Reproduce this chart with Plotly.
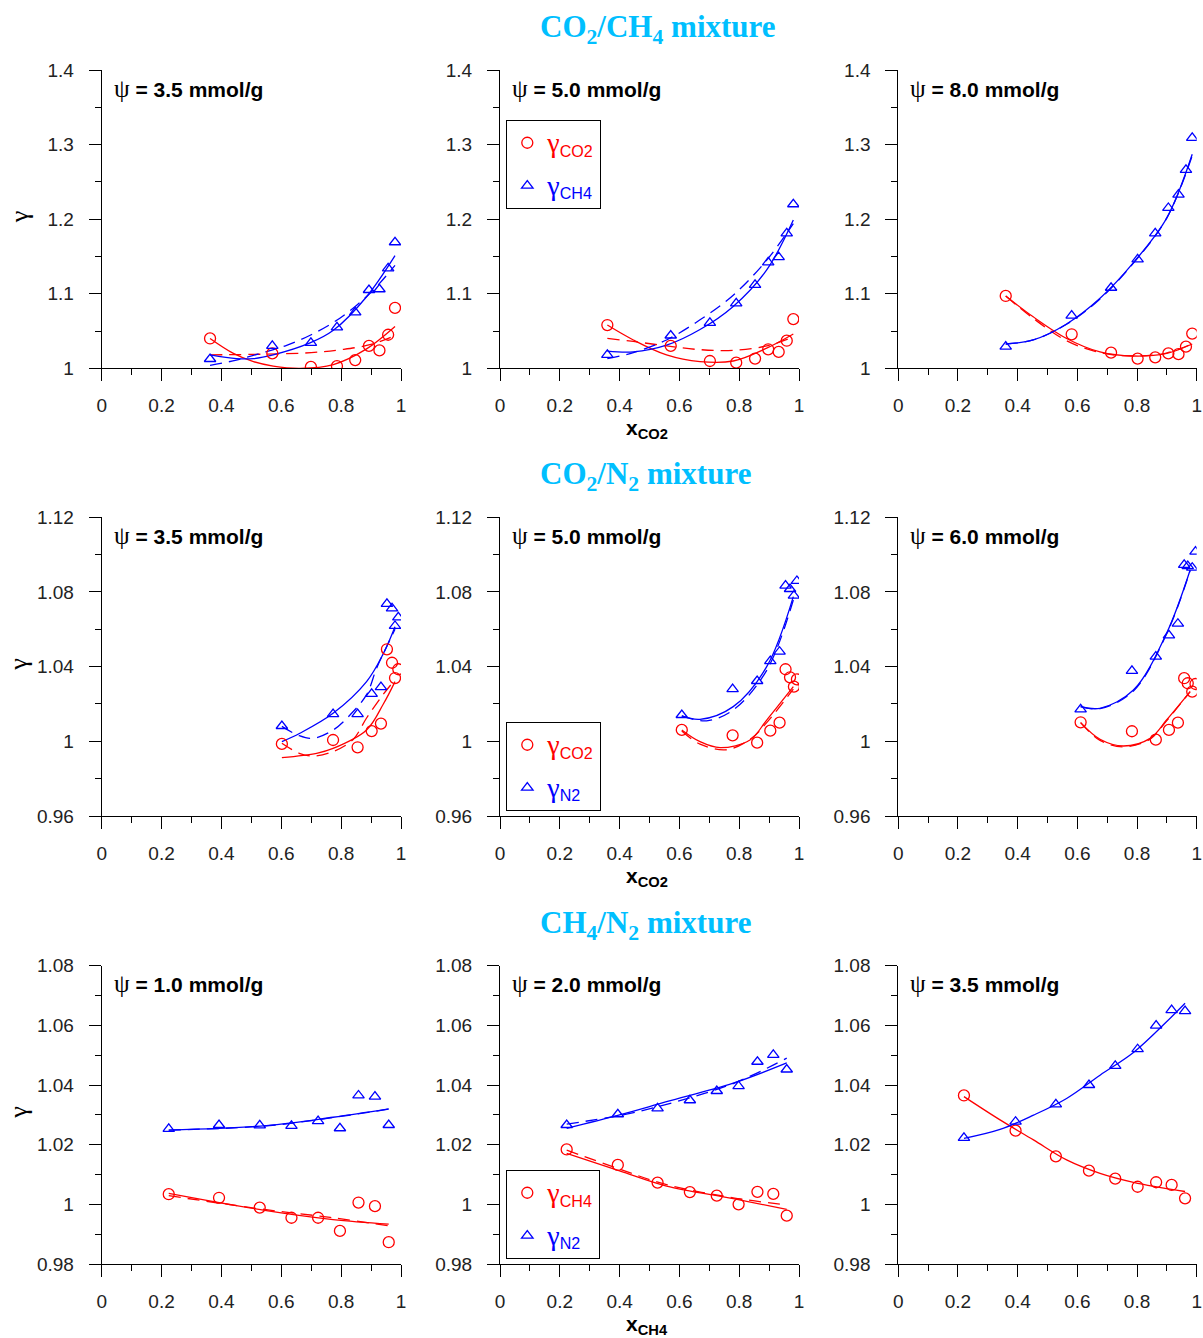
import plotly.graph_objects as go

W, H = 1203, 1338

# ---------------- DATA ----------------
# Row 1: CO2/CH4 mixture (x = x_CO2); g1 = gamma_CO2 (red), g2 = gamma_CH4 (blue)
p1_x = [0.362, 0.570, 0.699, 0.786, 0.847, 0.893, 0.928, 0.957, 0.980]
p1_g1 = [1.040, 1.020, 1.002, 1.003, 1.011, 1.030, 1.024, 1.045, 1.081]
p1_g2 = [1.0125, 1.030, 1.034, 1.055, 1.075, 1.105, 1.106, 1.134, 1.169]
p1_s1_x = [0.362, 0.44, 0.507, 0.573, 0.663, 0.774, 0.885, 0.98]
p1_s1_y = [1.040, 1.020, 1.009, 1.003, 1.000, 1.005, 1.026, 1.056]
p1_d1_x = [0.362, 0.55, 0.70, 0.80, 0.90, 0.98]
p1_d1_y = [1.018, 1.019, 1.021, 1.025, 1.032, 1.044]
p1_s2_x = [0.362, 0.45, 0.507, 0.573, 0.696, 0.774, 0.885, 0.98]
p1_s2_y = [1.018, 1.013, 1.013, 1.018, 1.034, 1.051, 1.096, 1.151]
p1_d2_x = [0.362, 0.45, 0.53, 0.62, 0.70, 0.78, 0.85, 0.91, 0.98]
p1_d2_y = [1.004, 1.011, 1.020, 1.031, 1.045, 1.063, 1.084, 1.106, 1.138]

p2_x = [0.359, 0.571, 0.702, 0.790, 0.853, 0.897, 0.932, 0.959, 0.981]
p2_g1 = [1.058, 1.030, 1.0098, 1.0076, 1.013, 1.0255, 1.022, 1.037, 1.066]
p2_g2 = [1.018, 1.044, 1.061, 1.087, 1.112, 1.142, 1.149, 1.181, 1.220]
p2_c_x = [0.359, 0.446, 0.557, 0.669, 0.78, 0.892, 0.981]
p2_s1_y = [1.058, 1.038, 1.018, 1.009, 1.0098, 1.027, 1.046]
p2_d1_y = [1.040, 1.036, 1.030, 1.025, 1.024, 1.030, 1.042]
p2_s2_y = [1.023, 1.022, 1.031, 1.052, 1.083, 1.132, 1.199]
p2_d2_y = [1.013, 1.021, 1.038, 1.065, 1.098, 1.145, 1.194]

p3_x = [0.360, 0.581, 0.713, 0.802, 0.861, 0.905, 0.939, 0.964, 0.985]
p3_g1 = [1.097, 1.0456, 1.021, 1.013, 1.0147, 1.020, 1.019, 1.029, 1.0465]
p3_g2 = [1.029, 1.0706, 1.108, 1.146, 1.181, 1.215, 1.233, 1.266, 1.309]
p3_c_x = [0.360, 0.452, 0.564, 0.676, 0.788, 0.899, 0.985]
p3_s1_y = [1.097, 1.069, 1.040, 1.022, 1.0165, 1.020, 1.0326]
p3_d1_y = [1.097, 1.067, 1.037, 1.021, 1.0165, 1.0205, 1.033]
p3_s2_y = [1.0326, 1.038, 1.0594, 1.0939, 1.1417, 1.201, 1.287]
p3_d2_y = [1.0326, 1.038, 1.059, 1.093, 1.141, 1.201, 1.285]

# Row 2: CO2/N2 mixture; g1 = gamma_CO2 (red), g2 = gamma_N2 (blue)
p4_x = [0.602, 0.773, 0.855, 0.902, 0.933, 0.953, 0.970, 0.980, 0.991]
p4_g1 = [0.9986, 1.0007, 0.9968, 1.0055, 1.0095, 1.0493, 1.0421, 1.0339, 1.0386]
p4_g2 = [1.0082, 1.0146, 1.0146, 1.0254, 1.029, 1.0736, 1.0712, 1.0618, 1.0664]
p4_s1_x = [0.602, 0.718, 0.773, 0.885, 0.941, 0.98]
p4_s1_y = [0.9913, 0.9936, 0.9962, 1.0061, 1.020, 1.032]
p4_d1_x = [0.602, 0.66, 0.706, 0.773, 0.84, 0.885, 0.94, 0.98]
p4_d1_y = [0.999, 0.9936, 0.9921, 0.9945, 1.001, 1.0125, 1.025, 1.033]
p4_s2_x = [0.602, 0.662, 0.773, 0.885, 0.941, 0.98]
p4_s2_y = [0.9998, 1.0043, 1.015, 1.032, 1.047, 1.0614]
p4_d2_x = [0.602, 0.66, 0.706, 0.773, 0.829, 0.885, 0.918, 0.95, 0.98]
p4_d2_y = [1.008, 1.003, 1.0016, 1.006, 1.014, 1.025, 1.039, 1.050, 1.060]

p5_x = [0.608, 0.778, 0.860, 0.904, 0.935, 0.955, 0.970, 0.983, 0.993]
p5_g1 = [1.0061, 1.0032, 0.9993, 1.0057, 1.010, 1.0386, 1.0343, 1.0293, 1.0332]
p5_g2 = [1.0141, 1.028, 1.0323, 1.043, 1.048, 1.0834, 1.0816, 1.078, 1.0859]
p5_s1_x = [0.608, 0.669, 0.736, 0.836, 0.892, 0.981]
p5_s1_y = [1.0061, 0.9998, 0.9966, 1.0007, 1.0114, 1.0293]
p5_d1_x = [0.608, 0.669, 0.758, 0.84, 0.892, 0.981]
p5_d1_y = [1.0055, 0.9985, 0.9955, 1.0015, 1.010, 1.028]
p5_s2_x = [0.608, 0.669, 0.78, 0.892, 0.981]
p5_s2_y = [1.0136, 1.0118, 1.0186, 1.040, 1.0775]
p5_d2_x = [0.608, 0.691, 0.78, 0.892, 0.981]
p5_d2_y = [1.0136, 1.0110, 1.0168, 1.038, 1.0757]

p6_x = [0.611, 0.783, 0.863, 0.907, 0.937, 0.958, 0.970, 0.985, 0.996]
p6_g1 = [1.0102, 1.0054, 1.0009, 1.0061, 1.010, 1.0338, 1.0311, 1.0266, 1.0307]
p6_g2 = [1.0171, 1.0377, 1.0454, 1.0568, 1.063, 1.0945, 1.0939, 1.093, 1.1016]
p6_s1_x = [0.611, 0.676, 0.754, 0.844, 0.899, 0.978]
p6_s1_y = [1.010, 1.0011, 0.9975, 1.0016, 1.0114, 1.0266]
p6_d1_y = [1.010, 1.0005, 0.9970, 1.0012, 1.011, 1.0266]
p6_s2_x = [0.611, 0.676, 0.788, 0.899, 0.978]
p6_s2_y = [1.0186, 1.0177, 1.0275, 1.0579, 1.0918]
p6_d2_y = [1.0186, 1.0175, 1.027, 1.0575, 1.0915]

# Row 3: CH4/N2 mixture (x = x_CH4); g1 = gamma_CH4 (red), g2 = gamma_N2 (blue)
p7_x = [0.224, 0.392, 0.528, 0.634, 0.723, 0.796, 0.858, 0.913, 0.959]
p7_g1 = [1.0034, 1.0022, 0.9989, 0.9955, 0.9955, 0.9911, 1.0006, 0.9994, 0.9873]
p7_g2 = [1.0253, 1.0266, 1.0265, 1.0263, 1.0279, 1.0255, 1.0365, 1.0361, 1.0266]
p7_c_x = [0.224, 0.55, 0.773, 0.959]
p7_s1_y = [1.0037, 0.9979, 0.9949, 0.9934]
p7_d1_y = [1.0029, 0.9982, 0.9955, 0.9928]
p7_s2_y = [1.0249, 1.0264, 1.0292, 1.032]
p7_d2_y = [1.0249, 1.0263, 1.0291, 1.0319]

p8_x = [0.223, 0.394, 0.527, 0.635, 0.725, 0.798, 0.861, 0.914, 0.959]
p8_g1 = [1.0184, 1.0132, 1.0073, 1.0041, 1.0029, 1.0000, 1.0042, 1.0035, 0.9962]
p8_g2 = [1.0266, 1.0302, 1.0322, 1.0349, 1.038, 1.0396, 1.0478, 1.0501, 1.0452]
p8_c_x = [0.223, 0.4, 0.557, 0.78, 0.959]
p8_s1_y = [1.0171, 1.0112, 1.0061, 1.0019, 0.9983]
p8_d1_y = [1.0182, 1.0118, 1.0066, 1.0022, 0.9998]
p8_s2_y = [1.0255, 1.0300, 1.0344, 1.0406, 1.0474]
p8_d2_y = [1.0269, 1.0298, 1.0335, 1.0405, 1.049]

p9_x = [0.220, 0.393, 0.528, 0.639, 0.727, 0.802, 0.864, 0.916, 0.961]
p9_g1 = [1.0365, 1.0247, 1.0161, 1.0113, 1.0086, 1.0059, 1.0074, 1.0065, 1.0020]
p9_g2 = [1.0223, 1.0277, 1.0335, 1.040, 1.0464, 1.052, 1.0599, 1.0651, 1.0648]
p9_s1_x = [0.220, 0.341, 0.453, 0.564, 0.676, 0.788, 0.961]
p9_s1_y = [1.0361, 1.0283, 1.0216, 1.0149, 1.0104, 1.0074, 1.0043]
p9_s2_x = [0.220, 0.341, 0.453, 0.564, 0.676, 0.788, 0.899, 0.961]
p9_s2_y = [1.0221, 1.0251, 1.0299, 1.0355, 1.0433, 1.0509, 1.0612, 1.0674]

psi_labels = ["3.5", "5.0", "8.0", "3.5", "5.0", "6.0", "1.0", "2.0", "3.5"]
row_titles = ["CO<sub>2</sub>/CH<sub>4</sub> mixture",
              "CO<sub>2</sub>/N<sub>2</sub> mixture",
              "CH<sub>4</sub>/N<sub>2</sub> mixture"]
xaxis_titles = ["CO2", "CO2", "CH4"]
legend_names = [("CO2", "CH4"), ("CO2", "N2"), ("CH4", "N2")]

x_tickvals = [0, 0.2, 0.4, 0.6, 0.8, 1.0]
x_ticktext = ["0", "0.2", "0.4", "0.6", "0.8", "1"]
y_ranges = [[1.0, 1.4], [0.96, 1.12], [0.98, 1.08]]
y_tickvals = [[1.0, 1.1, 1.2, 1.3, 1.4],
              [0.96, 1.0, 1.04, 1.08, 1.12],
              [0.98, 1.0, 1.02, 1.04, 1.06, 1.08]]
y_ticktext = [["1", "1.1", "1.2", "1.3", "1.4"],
              ["0.96", "1", "1.04", "1.08", "1.12"],
              ["0.98", "1", "1.02", "1.04", "1.06", "1.08"]]
y_minor = [0.05, 0.02, 0.01]

# ---------------- LAYOUT GEOMETRY (pixels) ----------------
col_x = [(101.7, 401.0), (500.0, 799.0), (898.3, 1196.7)]
row_y = [(70.0, 368.3), (517.3, 816.0), (965.7, 1264.0)]
RED = "#ff0000"
BLUE = "#0000ff"


def px(x):
    return x / W


def py(y):
    return 1 - y / H


panels = [
    dict(x=p1_x, g1=p1_g1, g2=p1_g2,
         lines=[(p1_s1_x, p1_s1_y, RED, None), (p1_d1_x, p1_d1_y, RED, "dash"),
                (p1_s2_x, p1_s2_y, BLUE, None), (p1_d2_x, p1_d2_y, BLUE, "dash")]),
    dict(x=p2_x, g1=p2_g1, g2=p2_g2,
         lines=[(p2_c_x, p2_s1_y, RED, None), (p2_c_x, p2_d1_y, RED, "dash"),
                (p2_c_x, p2_s2_y, BLUE, None), (p2_c_x, p2_d2_y, BLUE, "dash")]),
    dict(x=p3_x, g1=p3_g1, g2=p3_g2,
         lines=[(p3_c_x, p3_s1_y, RED, None), (p3_c_x, p3_d1_y, RED, "dash"),
                (p3_c_x, p3_s2_y, BLUE, None), (p3_c_x, p3_d2_y, BLUE, "dash")]),
    dict(x=p4_x, g1=p4_g1, g2=p4_g2,
         lines=[(p4_s1_x, p4_s1_y, RED, None), (p4_d1_x, p4_d1_y, RED, "dash"),
                (p4_s2_x, p4_s2_y, BLUE, None), (p4_d2_x, p4_d2_y, BLUE, "dash")]),
    dict(x=p5_x, g1=p5_g1, g2=p5_g2,
         lines=[(p5_s1_x, p5_s1_y, RED, None), (p5_d1_x, p5_d1_y, RED, "dash"),
                (p5_s2_x, p5_s2_y, BLUE, None), (p5_d2_x, p5_d2_y, BLUE, "dash")]),
    dict(x=p6_x, g1=p6_g1, g2=p6_g2,
         lines=[(p6_s1_x, p6_s1_y, RED, None), (p6_s1_x, p6_d1_y, RED, "dash"),
                (p6_s2_x, p6_s2_y, BLUE, None), (p6_s2_x, p6_d2_y, BLUE, "dash")]),
    dict(x=p7_x, g1=p7_g1, g2=p7_g2,
         lines=[(p7_c_x, p7_s1_y, RED, None), (p7_c_x, p7_d1_y, RED, "dash"),
                (p7_c_x, p7_s2_y, BLUE, None), (p7_c_x, p7_d2_y, BLUE, "dash")]),
    dict(x=p8_x, g1=p8_g1, g2=p8_g2,
         lines=[(p8_c_x, p8_s1_y, RED, None), (p8_c_x, p8_d1_y, RED, "dash"),
                (p8_c_x, p8_s2_y, BLUE, None), (p8_c_x, p8_d2_y, BLUE, "dash")]),
    dict(x=p9_x, g1=p9_g1, g2=p9_g2,
         lines=[(p9_s1_x, p9_s1_y, RED, None), (p9_s2_x, p9_s2_y, BLUE, None)]),
]

fig = go.Figure()
annotations = []
layout = {}

GAM = '<span style="font-family:Liberation Serif;font-size:28px">γ</span>'

for i, p in enumerate(panels):
    r, c = divmod(i, 3)
    n = i + 1
    xa = "x" if n == 1 else f"x{n}"
    ya = "y" if n == 1 else f"y{n}"
    for lx, ly, col, dash in p["lines"]:
        fig.add_trace(go.Scatter(
            x=lx, y=ly, mode="lines", xaxis=xa, yaxis=ya, showlegend=False,
            line=dict(color=col, width=1.3, shape="spline", smoothing=1.0,
                      dash="12px,7px" if dash else "solid"),
            hoverinfo="skip"))
    show = (c == 1)
    leg = "legend" if r == 0 else f"legend{r + 1}"
    n1, n2 = legend_names[r]
    fig.add_trace(go.Scatter(
        x=p["x"], y=p["g1"], mode="markers", xaxis=xa, yaxis=ya,
        marker=dict(symbol="circle-open", size=11, color=RED, line=dict(width=1.3)),
        name=f'<span style="color:{RED}">{GAM}<sub>{n1}</sub></span>',
        showlegend=show, legend=leg, legendgroup=f"a{n}"))
    fig.add_trace(go.Scatter(
        x=p["x"], y=p["g2"], mode="markers", xaxis=xa, yaxis=ya,
        marker=dict(symbol="triangle-up-open", size=10, color=BLUE, line=dict(width=1.3)),
        name=f'<span style="color:{BLUE}">{GAM}<sub>{n2}</sub></span>',
        showlegend=show, legend=leg, legendgroup=f"b{n}"))

    x0, x1 = col_x[c]
    y0, y1 = row_y[r]
    layout["xaxis" if n == 1 else f"xaxis{n}"] = dict(
        domain=[px(x0), px(x1)], anchor=ya, range=[0, 1], automargin=False,
        tickmode="array", tickvals=x_tickvals, ticktext=x_ticktext,
        ticks="outside", ticklen=12, tickwidth=1, tickcolor="black",
        minor=dict(tickmode="linear", tick0=0, dtick=0.1, ticks="outside",
                   ticklen=6, tickwidth=1, tickcolor="black"),
        showline=True, linecolor="black", linewidth=1, showgrid=False, zeroline=False,
        tickfont=dict(family="Liberation Sans", size=19, color="#222"),
        ticklabelstandoff=8, fixedrange=True)
    layout["yaxis" if n == 1 else f"yaxis{n}"] = dict(
        domain=[py(y1), py(y0)], anchor=xa, range=y_ranges[r], automargin=False,
        tickmode="array", tickvals=y_tickvals[r], ticktext=y_ticktext[r],
        ticks="outside", ticklen=12, tickwidth=1, tickcolor="black",
        minor=dict(tickmode="linear", tick0=y_ranges[r][0], dtick=y_minor[r],
                   ticks="outside", ticklen=6, tickwidth=1, tickcolor="black"),
        showline=True, linecolor="black", linewidth=1, showgrid=False, zeroline=False,
        tickfont=dict(family="Liberation Sans", size=19, color="#222"),
        ticklabelstandoff=11, fixedrange=True)

    # psi label
    annotations.append(dict(
        x=px(x0 + 10), y=py(y0 + 18), xref="paper", yref="paper",
        xanchor="left", yanchor="middle", showarrow=False,
        text=f'<span style="font-family:Liberation Serif;font-size:25px">ψ</span> <b>= {psi_labels[i]} mmol/g</b>',
        font=dict(family="Liberation Sans", size=21, color="black")))
    # gamma y-title
    if c == 0:
        annotations.append(dict(
            x=px(19), y=py((y0 + y1) / 2 - 2), xref="paper", yref="paper",
            xanchor="center", yanchor="middle", showarrow=False, textangle=-90,
            text="γ", font=dict(family="Liberation Serif", size=26, color="black")))

for r in range(3):
    y0, y1 = row_y[r]
    annotations.append(dict(
        x=px(538), y=py(y0 - 41), xref="paper", yref="paper",
        xanchor="left", yanchor="middle", showarrow=False,
        text=f"<b>{row_titles[r]}</b>",
        font=dict(family="Liberation Serif", size=31, color="#00bfff")))
    annotations.append(dict(
        x=px(647), y=py(y1 + 61), xref="paper", yref="paper",
        xanchor="center", yanchor="middle", showarrow=False,
        text=f"<b>x<sub>{xaxis_titles[r]}</sub></b>",
        font=dict(family="Liberation Sans", size=21, color="black")))

legend_tops = [120, 722, 1170]
for r in range(3):
    key = "legend" if r == 0 else f"legend{r + 1}"
    layout[key] = dict(
        x=px(506), y=py(legend_tops[r]), xanchor="left", yanchor="top",
        bordercolor="black", borderwidth=1.3, bgcolor="white",
        font=dict(family="Liberation Sans", size=23, color="black"),
        tracegroupgap=10, itemwidth=30)

fig.update_layout(
    template="none", autosize=False,
    width=W, height=H, margin=dict(l=0, r=0, t=0, b=0, pad=0),
    paper_bgcolor="white", plot_bgcolor="white",
    annotations=annotations, **layout)

fig.write_html("out.html", config={"displayModeBar": False},
               post_script="document.body.style.margin='0';document.body.style.overflow='hidden';")
